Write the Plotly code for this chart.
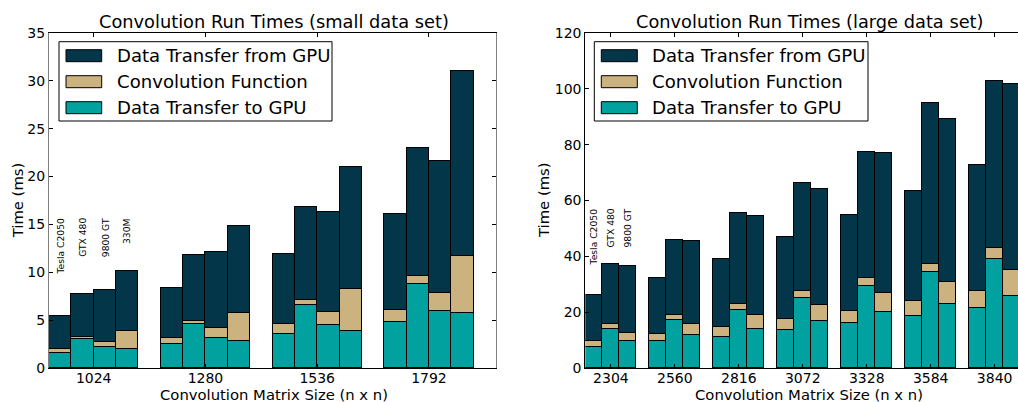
import plotly.graph_objects as go

# ---- data: per-stage run times in ms ----
devices_small = ["Tesla C2050", "GTX 480", "9800 GT", "330M"]
sizes_small = ["1024", "1280", "1536", "1792"]
# one row per matrix size, one value per device
to_gpu_small = [
    [1.53, 3.03, 2.16, 1.95],
    [2.47, 4.56, 3.10, 2.82],
    [3.55, 6.55, 4.49, 3.90],
    [4.77, 8.78, 5.92, 5.75],
]
conv_small = [
    [0.42, 0.24, 0.59, 1.88],
    [0.66, 0.39, 1.04, 2.96],
    [1.01, 0.59, 1.40, 4.32],
    [1.33, 0.80, 1.95, 5.92],
]
from_gpu_small = [
    [3.45, 4.50, 5.37, 6.31],
    [5.19, 6.89, 7.98, 9.02],
    [7.32, 9.72, 10.38, 12.82],
    [9.96, 13.41, 13.76, 19.36],
]

devices_large = ["Tesla C2050", "GTX 480", "9800 GT"]
sizes_large = ["2304", "2560", "2816", "3072", "3328", "3584", "3840"]
to_gpu_large = [
    [7.6, 14.1, 9.5],
    [9.5, 17.3, 12.0],
    [11.2, 20.9, 14.1],
    [13.7, 25.1, 16.7],
    [16.0, 29.5, 19.9],
    [18.5, 34.3, 22.8],
    [21.4, 38.9, 25.9],
]
conv_large = [
    [2.1, 1.5, 3.2],
    [2.7, 1.7, 3.8],
    [3.6, 2.2, 4.8],
    [4.0, 2.5, 5.7],
    [4.5, 2.7, 7.0],
    [5.5, 3.1, 7.9],
    [6.3, 4.0, 9.1],
]
from_gpu_large = [
    [16.6, 21.7, 24.0],
    [20.2, 27.0, 29.6],
    [24.4, 32.5, 35.7],
    [29.1, 38.6, 41.9],
    [34.2, 45.0, 50.2],
    [39.4, 57.6, 58.4],
    [45.1, 59.9, 66.7],
]

series_names = ["Data Transfer to GPU", "Convolution Function", "Data Transfer from GPU"]
series_colors = ["#00a19f", "#cbb27f", "#04364a"]

FONT = "DejaVu Sans"
W, H = 1018, 402


def px_x(p):
    return p / W


def px_y(p):
    return (H - p) / H


fig = go.Figure()


def add_panel(xa, ya, sizes, devices, stages):
    n = len(devices)
    bw = 0.8 / n
    xs = []
    for g in range(len(sizes)):
        for k in range(n):
            xs.append(g + bw * k + bw / 2)
    for name, color, values in zip(series_names, series_colors, stages):
        flat = [v for row in values for v in row]
        fig.add_trace(go.Bar(
            x=xs, y=flat, width=bw, name=name,
            marker=dict(color=color, line=dict(color="#000000", width=1)),
            xaxis=xa, yaxis=ya, showlegend=False,
        ))
    return bw


bw_s = add_panel("x", "y", sizes_small, devices_small,
                 [to_gpu_small, conv_small, from_gpu_small])
bw_l = add_panel("x2", "y2", sizes_large, devices_large,
                 [to_gpu_large, conv_large, from_gpu_large])

y0, y1 = px_y(368), px_y(33)
tickfont = dict(family=FONT, size=14, color="#000000")
common = dict(ticks="inside", ticklen=4, tickcolor="#000000", showgrid=False,
              zeroline=False, tickfont=tickfont, automargin=False)

fig.update_layout(
    width=W, height=H, autosize=False,
    margin=dict(l=0, r=0, t=0, b=0, pad=0, autoexpand=False),
    paper_bgcolor="white", plot_bgcolor="white",
    barmode="stack", bargap=0,
    font=dict(family=FONT, color="#000000"),
    xaxis=dict(
        domain=[px_x(49), px_x(496)], range=[0, len(sizes_small)],
        tickvals=[g + 0.4 for g in range(len(sizes_small))], ticktext=sizes_small,
        showline=True, linecolor="#000000", linewidth=1, mirror="ticks",
        ticklabelstandoff=-3, anchor="y", **common,
    ),
    yaxis=dict(
        domain=[y0, y1], range=[0, 35], dtick=5,
        showline=True, linecolor="#808080", linewidth=1, mirror="ticks",
        anchor="x", **common,
    ),
    xaxis2=dict(
        domain=[px_x(585.3), 1.0], range=[0, 6.765],
        tickvals=[g + 0.4 for g in range(len(sizes_large))], ticktext=sizes_large,
        showline=True, linecolor="#000000", linewidth=1, mirror="ticks",
        ticklabelstandoff=-3, anchor="y2", **common,
    ),
    yaxis2=dict(
        domain=[y0, y1], range=[0, 120], dtick=20,
        showline=True, linecolor="#000000", linewidth=1, mirror=False,
        anchor="x2", **common,
    ),
)

annotations = []
shapes = []


def text(x, y, s, size, **kw):
    annotations.append(dict(
        x=px_x(x), y=px_y(y), xref="paper", yref="paper", text=s,
        showarrow=False, font=dict(family=FONT, size=size, color="#000000"), **kw))


# panel titles and axis titles
text(273.8, 21.5, "Convolution Run Times (small data set)", 17.8, xanchor="center", yanchor="middle")
text(809.7, 21.5, "Convolution Run Times (large data set)", 17.8, xanchor="center", yanchor="middle")
text(273.5, 394.5, "Convolution Matrix Size (n x n)", 14.8, xanchor="center", yanchor="middle")
text(808.8, 394.5, "Convolution Matrix Size (n x n)", 14.8, xanchor="center", yanchor="middle")
text(18.3, 200, "Time (ms)", 14.8, xanchor="center", yanchor="middle", textangle=-90)
text(544, 200, "Time (ms)", 14.8, xanchor="center", yanchor="middle", textangle=-90)

# device names above the first group of each panel
for k, d in enumerate(devices_small):
    annotations.append(dict(
        x=bw_s * k + bw_s / 2, y=15.9, xref="x", yref="y", text=d, showarrow=False,
        textangle=-90, xanchor="center", yanchor="top",
        font=dict(family=FONT, size=9.2, color="#000000")))
for k, d in enumerate(devices_large):
    annotations.append(dict(
        x=bw_l * k + bw_l / 2, y=58, xref="x2", yref="y2", text=d, showarrow=False,
        textangle=-90, xanchor="center", yanchor="top",
        font=dict(family=FONT, size=9.2, color="#000000")))


# legend boxes drawn as shapes
def legend(x0, x1, sw0, sw1, tx):
    shapes.append(dict(type="rect", xref="paper", yref="paper",
                       x0=px_x(x0), x1=px_x(x1), y0=px_y(121), y1=px_y(41.7),
                       line=dict(color="#000000", width=1), fillcolor="white", layer="above"))
    rows = [55.7, 81.7, 107.7]
    order = [2, 1, 0]
    for cy, i in zip(rows, order):
        shapes.append(dict(type="rect", xref="paper", yref="paper",
                           x0=px_x(sw0), x1=px_x(sw1), y0=px_y(cy + 6), y1=px_y(cy - 6),
                           line=dict(color="#000000", width=1),
                           fillcolor=series_colors[i], layer="above"))
        text(tx, cy, series_names[i], 18.1, xanchor="left", yanchor="middle")


legend(59, 332, 66, 101.7, 114.5)
legend(594.3, 868, 601.3, 637.3, 649.8)

fig.update_layout(annotations=annotations, shapes=shapes)
fig.write_html("out.html")
